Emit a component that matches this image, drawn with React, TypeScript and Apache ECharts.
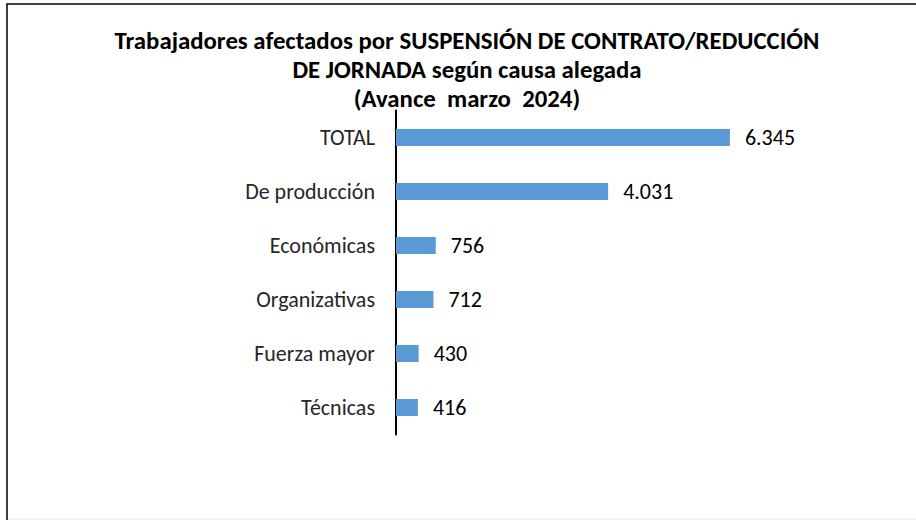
import React, { useEffect, useRef } from "react";
import * as echarts from "echarts";

const categories = ["TOTAL", "De producción", "Económicas", "Organizativas", "Fuerza mayor", "Técnicas"];
const values = [6345, 4031, 756, 712, 430, 416];
const titleLines = [
  "Trabajadores afectados por SUSPENSIÓN DE CONTRATO/REDUCCIÓN",
  "DE JORNADA según causa alegada",
  "(Avance  marzo  2024)",
];

const FONT = "Carlito, Calibri, 'Open Sans', 'Noto Sans', sans-serif";

function fmt(v: number): string {
  const s = Math.round(v).toString();
  return s.replace(/\B(?=(\d{3})+(?!\d))/g, ".");
}

export default function App() {
  const ref = useRef<HTMLDivElement>(null);
  useEffect(() => {
    if (!ref.current) return;
    const chart = echarts.init(ref.current, undefined, { renderer: "svg" });
    chart.setOption({
      animation: false,
      backgroundColor: "#ffffff",
      graphic: [
        {
          type: "rect",
          shape: { x: 7, y: 4, width: 930, height: 520 },
          style: { fill: "none", stroke: "#000", lineWidth: 1.5 },
          silent: true,
        },
        {
          type: "line",
          shape: { x1: 8, y1: 519, x2: 916, y2: 519 },
          style: { stroke: "#e6e6e6", lineWidth: 1 },
          silent: true,
        },
        ...titleLines.map((t, i) => ({
          type: "text",
          x: 467,
          y: 40 + i * 29,
          style: {
            text: t,
            font: `bold 24.8px ${FONT}`,
            fill: "#000",
            textAlign: "center",
            textVerticalAlign: "middle",
          },
        })),
      ],
      grid: { left: 396, width: 421, top: 110.5, height: 324 },
      xAxis: {
        type: "value",
        min: 0,
        max: 8000,
        show: false,
      },
      yAxis: {
        type: "category",
        data: categories,
        inverse: true,
        axisLine: { show: true, lineStyle: { color: "#000", width: 2 } },
        axisTick: { show: false },
        axisLabel: {
          margin: 21,
          fontSize: 22,
          fontFamily: FONT,
          color: "#262626",
        },
      },
      series: [
        {
          type: "bar",
          data: values,
          barWidth: 17,
          itemStyle: { color: "#5b9bd5" },
          label: {
            show: true,
            position: "right",
            distance: 15,
            fontSize: 22,
            fontFamily: FONT,
            color: "#000",
            formatter: (p: any) => fmt(p.value),
          },
        },
      ],
    });
    return () => chart.dispose();
  }, []);
  return (
    <div
      ref={ref}
      style={{ position: "absolute", left: 0, top: 0, width: 916, height: 520 }}
    />
  );
}
